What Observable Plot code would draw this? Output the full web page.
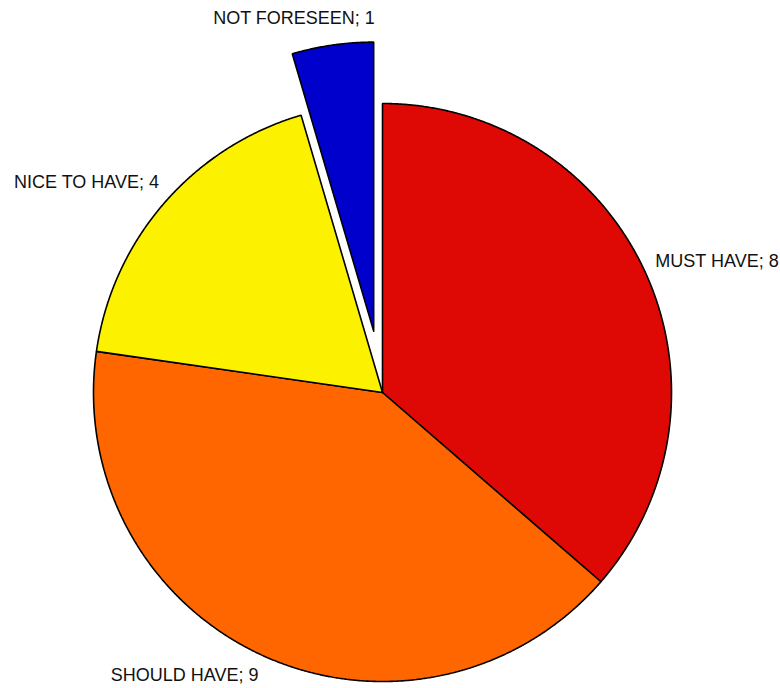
<!DOCTYPE html>
<html>
<head>
<meta charset="utf-8">
<script src="https://cdn.jsdelivr.net/npm/d3@7"></script>
<script src="https://cdn.jsdelivr.net/npm/@observablehq/plot@0.6"></script>
<style>
  html, body { margin: 0; padding: 0; background: #fff; }
</style>
</head>
<body>
<div id="chart"></div>
<script>
// ---- data ----
const categories = ["MUST HAVE", "SHOULD HAVE", "NICE TO HAVE", "NOT FORESEEN"];
const values = [8, 9, 4, 1];
const colors = ["#DE0804", "#FF6600", "#FCF200", "#0000CC"];
const exploded = [false, false, false, true];

// ---- layout (pixels) ----
const W = 780, H = 688;
const cx = 382, cy = 392, R = 289, explodeDist = 62, labelGap = 12;
// small per-label nudges in screen pixels (dx, dy)
const labelNudge = {"MUST HAVE": [-1, -6], "SHOULD HAVE": [1, 9], "NICE TO HAVE": [4, -13], "NOT FORESEEN": [44, -15]};

const total = d3.sum(values);
let acc = 0;
const slices = categories.map((c, i) => {
  const a0 = acc / total * 2 * Math.PI;
  acc += values[i];
  const a1 = acc / total * 2 * Math.PI;
  const mid = (a0 + a1) / 2;
  const off = exploded[i] ? explodeDist : 0;
  return {key: c, value: values[i], color: colors[i], a0, a1, mid,
          ox: off * Math.sin(mid), oy: off * Math.cos(mid)};
});

// polygon points in data units (y up, center at 0,0)
const pts = [];
for (const s of slices) {
  pts.push({key: s.key, x: s.ox, y: s.oy});
  const n = Math.max(2, Math.ceil((s.a1 - s.a0) / (Math.PI / 720)));
  for (let k = 0; k <= n; k++) {
    const a = s.a0 + (s.a1 - s.a0) * k / n;
    pts.push({key: s.key, x: s.ox + R * Math.sin(a), y: s.oy + R * Math.cos(a)});
  }
  pts.push({key: s.key, x: s.ox, y: s.oy});
}

const labels = slices.map(s => {
  const rr = R + labelGap;
  const [ndx, ndy] = labelNudge[s.key];
  return {
    text: `${s.key}; ${s.value}`,
    x: s.ox + rr * Math.sin(s.mid) + ndx,
    y: s.oy + rr * Math.cos(s.mid) - ndy,
    right: Math.sin(s.mid) > 0
  };
});

const font = {fontSize: 18, fontFamily: "'Liberation Sans', Arial, sans-serif", fill: "#111"};

const chart = Plot.plot({
  width: W,
  height: H,
  margin: 0,
  x: {domain: [-cx, W - cx], axis: null},
  y: {domain: [-(H - cy), cy], axis: null},
  color: {domain: categories, range: colors},
  marks: [
    Plot.line(pts, {x: "x", y: "y", z: "key", fill: "key", stroke: "black", strokeWidth: 1.6, strokeLinejoin: "miter", curve: "linear"}),
    Plot.text(labels.filter(d => d.right), {x: "x", y: "y", text: "text", textAnchor: "start", ...font}),
    Plot.text(labels.filter(d => !d.right), {x: "x", y: "y", text: "text", textAnchor: "end", ...font})
  ]
});
document.getElementById("chart").appendChild(chart);
</script>
</body>
</html>
